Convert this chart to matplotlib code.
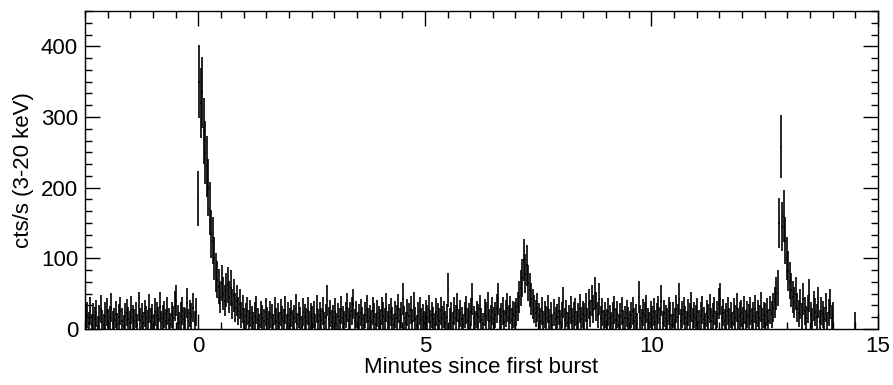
#!/usr/bin/env python

import numpy as np
import matplotlib
matplotlib.use('Agg')
import matplotlib.pyplot as plt
from matplotlib.ticker import MultipleLocator

plt.rcParams['font.family'] = ['Liberation Sans', 'DejaVu Sans']

# 2 s bins, time in minutes since first burst
bin_min = 2.0 / 60.0
t_start = -2.5

# count rates (cts/s, 3-20 keV)
pre_burst = [12, 20, 8, 25, 5, 18, 14, 22, 3, 16, 28, 10, 6, 19, 24,
             11, 15, 30, 9, 13, 21, 7, 17, 26, 12, 4, 18, 23, 14, 9,
             27, 16, 11, 20, 6, 32, 13, 18, 8, 22, 15, 10, 29, 12, 17,
             5, 24, 19, 14, 31, 9, 16, 21, 11, 26, 13, 7, 20, 15, 33,
             40, 16, 8, 19, 25, 14, 12, 37, 11, 22, 18, 30, 9, 24, 185]

burst1 = [350, 320, 335, 280, 250, 230, 200, 170, 135, 125, 100, 80, 70, 60, 45,
          65, 50, 40, 55, 62, 45, 58, 35, 48, 30, 40, 25, 35, 20, 28,
          12, 18, 25, 10, 22, 15, 8, 19, 27, 13, 6, 21, 16, 11, 24]

quiet1 = [14, 9, 21, 17, 5, 25, 12, 18, 8, 23, 15, 11, 27, 6, 19,
          13, 22, 10, 16, 29, 7, 20, 14, 3, 24, 17, 12, 26, 9, 18,
          15, 21, 6, 28, 11, 19, 13, 25, 8, 17, 40, 14, 22, 10, 16,
          24, 7, 18, 12, 27, 15, 9, 20, 30, 13, 19, 26, 35, 11, 21,
          8, 17, 23, 14, 5, 20, 28, 12, 16, 10, 25, 18, 7, 22, 15,
          11, 26, 19, 13, 30, 9, 17, 24, 14, 6, 21, 16, 29, 12, 20,
          42, 15, 8, 23, 18, 27, 11, 31, 14, 4, 19, 25, 13, 17, 9,
          22, 16, 28, 10, 20, 14, 7, 24, 18, 12, 26, 15, 21, 9, 17,
          55, 13, 19, 8, 25, 16, 30, 11, 22, 14, 6, 20, 27, 12, 18,
          24, 42, 15, 9, 21, 17, 28, 13, 7, 23, 19, 32, 11, 16, 26,
          14, 20, 29, 42, 12, 18, 25, 10, 22, 30, 16, 27, 13, 21, 19]

burst2 = [24, 32, 45, 58, 72, 98, 78, 90, 65, 55, 42, 35, 28, 22, 30]

quiet2 = [18, 12, 25, 9, 21, 15, 28, 11, 19, 6, 23, 14, 17, 26, 10,
          20, 38, 13, 22, 8, 16, 27, 12, 19, 24, 9, 18, 29, 14, 21,
          18, 30, 12, 35, 22, 40, 28, 50, 32, 20, 42, 15, 24, 10, 20,
          11, 24, 16, 8, 19, 27, 13, 21, 6, 18, 25, 10, 15, 22, 14,
          9, 20, 26, 12, 17, 7, 45, 16, 11, 23, 19, 28, 13, 8, 21,
          15, 24, 10, 18, 27, 14, 40, 9, 22, 16, 12, 25, 19, 6, 20,
          13, 28, 17, 42, 11, 21, 26, 15, 9, 23, 18, 31, 12, 20, 16,
          24, 10, 19, 27, 14, 7, 22, 17, 29, 12, 18, 25, 9, 21, 36,
          43, 15, 23, 11, 18, 26, 13, 20, 8, 24, 16, 30, 12, 19, 22,
          14, 27, 10, 21, 17, 25, 12, 19, 28, 9, 22, 16, 31, 13, 20,
          18, 24, 11, 27, 21, 30]

burst3 = [38, 50, 58, 150, 258, 145, 160, 125, 100, 82, 68, 55, 45, 38, 50]

tail = [30, 22, 35, 18, 42, 25, 15, 28, 48, 20, 12, 33, 24, 17, 38,
        10, 26, 21, 14, 30, 8, 23, 35, 16, 20]

# lone bin after the gap
extra_t = [14.5]
extra_rate = [8]

rate = np.array(pre_burst + burst1 + quiet1 + burst2 + quiet2 + burst3 + tail, dtype=float)
t = t_start + (np.arange(len(rate)) + 0.5) * bin_min
t = np.concatenate([t, extra_t])
rate = np.concatenate([rate, extra_rate])

# poisson-ish errors incl. background
bkg = 30.0
err = np.sqrt(7.0 * (rate + bkg))

fig = plt.figure(figsize=(8.93, 3.85), dpi=100)
ax = fig.add_axes([85/893., 1 - 329/385., (878 - 85)/893., (329 - 11)/385.])

ax.errorbar(t, rate, xerr=bin_min/2, yerr=err,
            fmt='none', ecolor='black', elinewidth=1.2, capsize=0)

ax.set_xlim(-2.5, 15)
ax.set_ylim(0, 450)

ax.xaxis.set_major_locator(MultipleLocator(5))
ax.xaxis.set_minor_locator(MultipleLocator(0.5))
ax.yaxis.set_major_locator(MultipleLocator(100))
ax.yaxis.set_minor_locator(MultipleLocator(100/6.))

ax.tick_params(which='both', direction='in', top=True, right=True,
               width=1, labelsize=16, colors='black')
ax.tick_params(which='major', length=11, pad=5)
ax.tick_params(which='minor', length=5)
for s in ax.spines.values():
    s.set_linewidth(1)

ax.set_xlabel('Minutes since first burst', fontsize=16, labelpad=0)
ax.set_ylabel('cts/s (3-20 keV)', fontsize=16, labelpad=5)

fig.savefig('out.png', dpi=100)
